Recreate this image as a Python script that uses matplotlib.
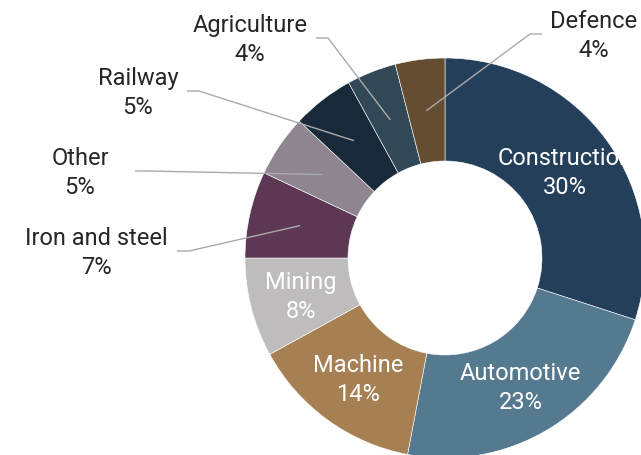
import numpy as np
import matplotlib
matplotlib.use("Agg")
import matplotlib.pyplot as plt

plt.rcParams['font.family'] = ['Roboto', 'DejaVu Sans']

# Share of steel consumption by end-use sector (%)
sectors = ["Construction", "Automotive", "Machine", "Mining", "Iron and steel",
           "Other", "Railway", "Agriculture", "Defence"]
shares = [30, 23, 14, 8, 7, 5, 5, 4, 4]
colors = ["#243F5A", "#557A8F", "#A67F52", "#BFBCBE", "#5D3855",
          "#8E8591", "#182939", "#314857", "#654D32"]

# Sectors labelled inside the ring vs. outside with leader lines
inside = {"Construction", "Automotive", "Machine", "Mining"}
# Outside labels: leader-line end (x, y), text centre x, side of the text
outside_anchor = {
    "Iron and steel": (-1.34, 0.035, -1.745, "left"),
    "Other": (-1.55, 0.435, -1.825, "left"),
    "Railway": (-1.29, 0.835, -1.535, "left"),
    "Agriculture": (-0.645, 1.10, -0.975, "left"),
    "Defence": (0.485, 1.12, 0.745, "right"),
}

W, H, DPI = 641, 455, 100
fig = plt.figure(figsize=(W / DPI, H / DPI), dpi=DPI)
ax = fig.add_axes([0, 0, 1, 1])
ax.set_axis_off()

inner = 0.485
wedges, _ = ax.pie(shares, colors=colors, startangle=90, counterclock=False,
                   radius=1.0,
                   wedgeprops=dict(width=1 - inner, edgecolor="white", linewidth=0.4))

# Pie centre at pixel (445, 258), outer radius 200 px
cx, cy, rpx = 445, 258, 200
ax.set_aspect('auto')
ax.set_xlim((0 - cx) / rpx, (W - cx) / rpx)
ax.set_ylim((cy - H) / rpx, cy / rpx)

mid_r = (1 + inner) / 2
fs = 17
ls = 1.32
dy = -0.01  # small downward nudge so text sits optically centred
for w, name, val in zip(wedges, sectors, shares):
    ang = np.deg2rad((w.theta1 + w.theta2) / 2)
    px, py = mid_r * np.cos(ang), mid_r * np.sin(ang)
    label = f"{name}\n{val}%"
    if name in inside:
        ax.text(px, py + dy, label, ha="center", va="center", color="white",
                fontsize=fs, linespacing=ls, multialignment="center")
    else:
        ex, ey, tx, side = outside_anchor[name]
        knee = ex + (0.06 if side == "left" else -0.06)
        ax.plot([px, knee, ex], [py, ey, ey], color="#AAAAAA", lw=1.0,
                solid_capstyle="butt")
        ax.text(tx, ey + dy, label, ha="center", va="center",
                color="#262626", fontsize=fs, linespacing=ls,
                multialignment="center")

fig.savefig("out.png", dpi=DPI)
